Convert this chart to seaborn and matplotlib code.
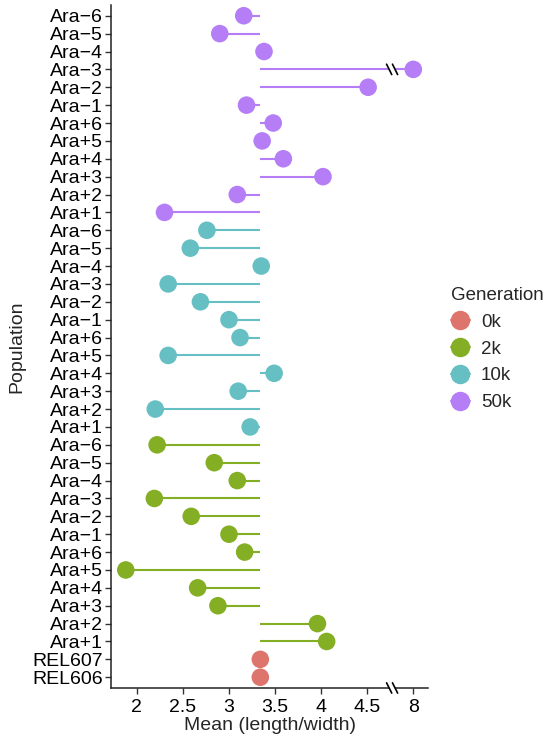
import numpy as np
import pandas as pd
import seaborn as sns
import matplotlib.pyplot as plt
import matplotlib.transforms as mtrans
from matplotlib.lines import Line2D

sns.set_style('ticks')
plt.rcParams['font.family'] = ['Liberation Sans', 'DejaVu Sans']

# populations listed bottom -> top within each generation
populations = ['Ara+1', 'Ara+2', 'Ara+3', 'Ara+4', 'Ara+5', 'Ara+6',
               'Ara\u22121', 'Ara\u22122', 'Ara\u22123', 'Ara\u22124', 'Ara\u22125', 'Ara\u22126']
ancestors = ['REL606', 'REL607']
anc_vals = [3.34, 3.34]
gen2k = [4.06, 3.96, 2.88, 2.66, 1.88, 3.17, 3.00, 2.59, 2.19, 3.09, 2.84, 2.22]
gen10k = [3.23, 2.20, 3.10, 3.49, 2.34, 3.12, 3.00, 2.69, 2.34, 3.35, 2.58, 2.76]
gen50k = [2.30, 3.09, 4.02, 3.59, 3.36, 3.48, 3.19, 4.51, 8.00, 3.38, 2.90, 3.16]
generations = ['0k', '2k', '10k', '50k']
colors = ['#DD756D', '#84AF25', '#66BFC3', '#B57EF6']
xticks = [2, 2.5, 3, 3.5, 4, 4.5, 8]

df = pd.concat([
    pd.DataFrame({'Population': ancestors, 'Mean': anc_vals, 'Generation': '0k'}),
    pd.DataFrame({'Population': populations, 'Mean': gen2k, 'Generation': '2k'}),
    pd.DataFrame({'Population': populations, 'Mean': gen10k, 'Generation': '10k'}),
    pd.DataFrame({'Population': populations, 'Mean': gen50k, 'Generation': '50k'}),
], ignore_index=True)
df['pos'] = np.arange(len(df))
baseline = np.mean(anc_vals)
pal = dict(zip(generations, colors))


# broken x axis: everything above the gap is shifted down by 3
def fwd(x):
    x = np.asarray(x, dtype=float)
    return np.where(x > 6, x - 3, x)


def inv(y):
    y = np.asarray(y, dtype=float)
    return np.where(y > 4.6, y + 3, y)


fig = plt.figure(figsize=(5.48, 7.38), dpi=100)
ax = fig.add_axes([0.2026, 0.0678, 0.5785, 0.9254])
ax.set_xscale('function', functions=(fwd, inv))

ax.hlines(y=df['pos'], xmin=baseline, xmax=df['Mean'],
          colors=df['Generation'].map(pal), lw=1.5, zorder=1)
sns.scatterplot(data=df, x='Mean', y='pos', hue='Generation', palette=pal,
                s=160, linewidth=0, alpha=1, ax=ax, legend=False, zorder=2)

ax.set_xlim(1.72, 8.16)
ax.set_ylim(-0.6, len(df) - 0.4)
ax.set_xticks(xticks, [f'{t:g}' for t in xticks])
ax.set_yticks(df['pos'], df['Population'])
ax.minorticks_off()
ax.tick_params(labelsize=14, length=4, width=1, color='#333333', labelcolor='black', pad=2)
ax.tick_params(axis='x', pad=4)
ax.set_xlabel('Mean (length/width)', fontsize=14, labelpad=1)
ax.set_ylabel('Population', fontsize=14, labelpad=5)
sns.despine(ax=ax)
for side in ['left', 'bottom']:
    ax.spines[side].set_linewidth(1.1)
    ax.spines[side].set_color('#222222')

# break marks on the axis and on the long segment
xb = 7.77
dx, off = 0.028, 0.032
trans = mtrans.blended_transform_factory(ax.transData, ax.transAxes)
ax.plot([xb - off, xb + off], [0, 0], transform=trans, color='white', lw=3,
        clip_on=False, zorder=4, solid_capstyle='butt')
ara3 = df.loc[(df['Generation'] == '50k') & (df['Population'] == 'Ara\u22123'), 'pos'].iloc[0]
ax.plot([xb - off, xb + off], [ara3, ara3], color='white', lw=3, zorder=1.5,
        solid_capstyle='butt')
for xc in (xb - off, xb + off):
    ax.plot([xc - dx, xc + dx], [0.0075, -0.0075], transform=trans, color='black',
            lw=1.2, clip_on=False, zorder=5)
    ax.plot([xc - dx, xc + dx], [ara3 + 0.29, ara3 - 0.29], color='black',
            lw=1.2, zorder=5)

handles = [Line2D([0], [0], color=c, marker='o', markersize=13, lw=1.5) for c in colors]
leg = fig.legend(handles, generations, title='Generation', loc='upper left',
                 bbox_to_anchor=(0.806, 0.624), frameon=False, fontsize=13.5,
                 title_fontsize=13.5, handlelength=1.0, handletextpad=0.6,
                 labelspacing=0.52, borderpad=0, alignment='left')

fig.savefig('out.png', dpi=100)
